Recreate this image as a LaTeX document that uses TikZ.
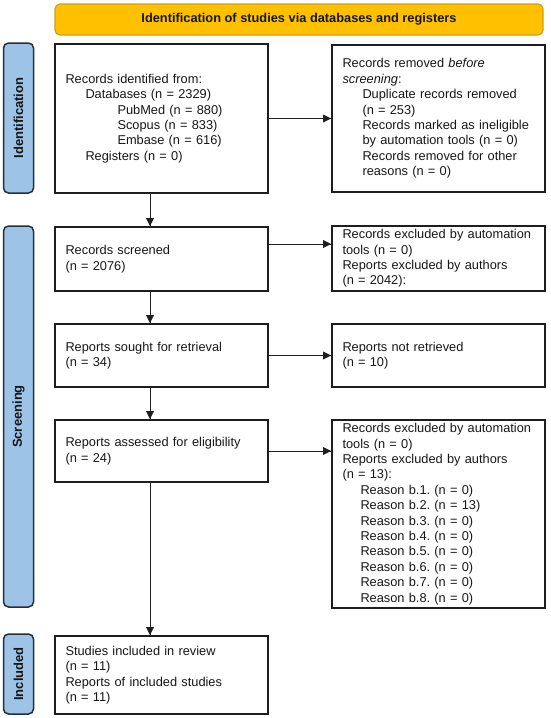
\documentclass[tikz,border=0pt]{standalone}
\usepackage{fontspec}
\setmainfont{Liberation Sans}
\usepackage{tikz}
\frenchspacing
\definecolor{titlefill}{RGB}{255,192,0}
\definecolor{titleline}{RGB}{212,158,16}
\definecolor{sidefill}{RGB}{157,195,230}
\definecolor{sideline}{RGB}{38,46,58}
\definecolor{boxline}{RGB}{30,30,30}
\definecolor{inktext}{RGB}{22,22,22}

\begin{document}
\begin{tikzpicture}[x=1pt,y=1pt]
\tikzstyle{every node}+=[font=\fontsize{12.8}{15.4}\selectfont, text=inktext]
\tikzstyle{box}=[draw=boxline, line width=1.6pt, minimum width=213pt, text width=192pt, inner xsep=10.5pt, inner ysep=2pt, align=left]
\tikzstyle{side}=[draw=sideline, fill=sidefill, line width=1.5pt, rounded corners=5pt, rotate=90, minimum height=30pt, inner sep=0pt, font=\fontsize{13}{15.4}\selectfont\bfseries]
\tikzstyle{titlebar}=[draw=titleline, fill=titlefill, line width=1.2pt, rounded corners=5pt, minimum width=488pt, minimum height=31pt, font=\fontsize{12.8}{15.4}\selectfont\bfseries]
\tikzstyle{link}=[draw=boxline, line width=0.8pt]
\tikzstyle{head}=[fill=boxline]
\useasboundingbox (0,0) rectangle (550,-718);
\node[titlebar] (title) at (299,-19.5) {Identification of studies via databases and registers};
\node[side, minimum width=150pt] (sideId) at (18.5,-118) {Identification};
\node[side, minimum width=381pt] (sideScr) at (18.5,-416.5) {Screening};
\node[side, minimum width=80pt] (sideInc) at (18.5,-674) {Included};
\node[box, minimum height=149pt] (idrec) at (161.5,-118.5) {Records identified from:\\
\hspace*{20pt}Databases (n = 2329)\\
\hspace*{52pt}PubMed (n = 880)\\
\hspace*{52pt}Scopus (n = 833)\\
\hspace*{52pt}Embase (n = 616)\\
\hspace*{20pt}Registers (n = 0)};
\node[box, minimum height=147pt] (removed) at (438.5,-118.5) {Records removed \textit{before}\\
\textit{screening}:\\
\hspace*{20pt}Duplicate records removed\\
\hspace*{20pt}(n = 253)\\
\hspace*{20pt}Records marked as ineligible\\
\hspace*{20pt}by automation tools (n = 0)\\
\hspace*{20pt}Records removed for other\\
\hspace*{20pt}reasons (n = 0)};
\node[box, minimum height=64pt] (screened) at (161.5,-259) {Records screened\\(n = 2076)};
\node[box, minimum height=65pt] (exclA) at (438.5,-258.5) {Records excluded by automation\\
tools (n = 0)\\
Reports excluded by authors\\
(n = 2042):};
\node[box, minimum height=63pt] (sought) at (161.5,-355.5) {Reports sought for retrieval\\(n = 34)};
\node[box, minimum height=63pt] (notret) at (438.5,-355.5) {Reports not retrieved\\(n = 10)};
\node[box, minimum height=62pt] (assessed) at (161.5,-451) {Reports assessed for eligibility\\(n = 24)};
\node[box, minimum height=188pt] (exclB) at (438.5,-514) {Records excluded by automation\\
tools (n = 0)\\
Reports excluded by authors\\
(n = 13):\\
\hspace*{18pt}Reason b.1. (n = 0)\\
\hspace*{18pt}Reason b.2. (n = 13)\\
\hspace*{18pt}Reason b.3. (n = 0)\\
\hspace*{18pt}Reason b.4. (n = 0)\\
\hspace*{18pt}Reason b.5. (n = 0)\\
\hspace*{18pt}Reason b.6. (n = 0)\\
\hspace*{18pt}Reason b.7. (n = 0)\\
\hspace*{18pt}Reason b.8. (n = 0)};
\node[box, minimum height=78pt] (included) at (161.5,-675) {Studies included in review\\
(n = 11)\\
Reports of included studies\\
(n = 11)};
\coordinate (spine) at (150,0);
\coordinate (scrlevel) at (0,-244);
\draw[link] (idrec.east) -- (removed.west);
\fill[head] (removed.west) -- ++(-8,4) -- ++(0,-8) -- cycle;
\draw[link] (screened.east |- scrlevel) -- (exclA.west |- scrlevel);
\fill[head] (exclA.west |- scrlevel) -- ++(-8,4) -- ++(0,-8) -- cycle;
\draw[link] (sought.east) -- (notret.west |- sought.east);
\fill[head] (notret.west |- sought.east) -- ++(-8,4) -- ++(0,-8) -- cycle;
\draw[link] (assessed.east) -- (exclB.west |- assessed.east);
\fill[head] (exclB.west |- assessed.east) -- ++(-8,4) -- ++(0,-8) -- cycle;
\draw[link] (idrec.south -| spine) -- (screened.north -| spine);
\fill[head] (screened.north -| spine) -- ++(-4,8) -- ++(8,0) -- cycle;
\draw[link] (screened.south -| spine) -- (sought.north -| spine);
\fill[head] (sought.north -| spine) -- ++(-4,8) -- ++(8,0) -- cycle;
\draw[link] (sought.south -| spine) -- (assessed.north -| spine);
\fill[head] (assessed.north -| spine) -- ++(-4,8) -- ++(8,0) -- cycle;
\draw[link] (assessed.south -| spine) -- (included.north -| spine);
\fill[head] (included.north -| spine) -- ++(-4,8) -- ++(8,0) -- cycle;
\end{tikzpicture}
\end{document}
